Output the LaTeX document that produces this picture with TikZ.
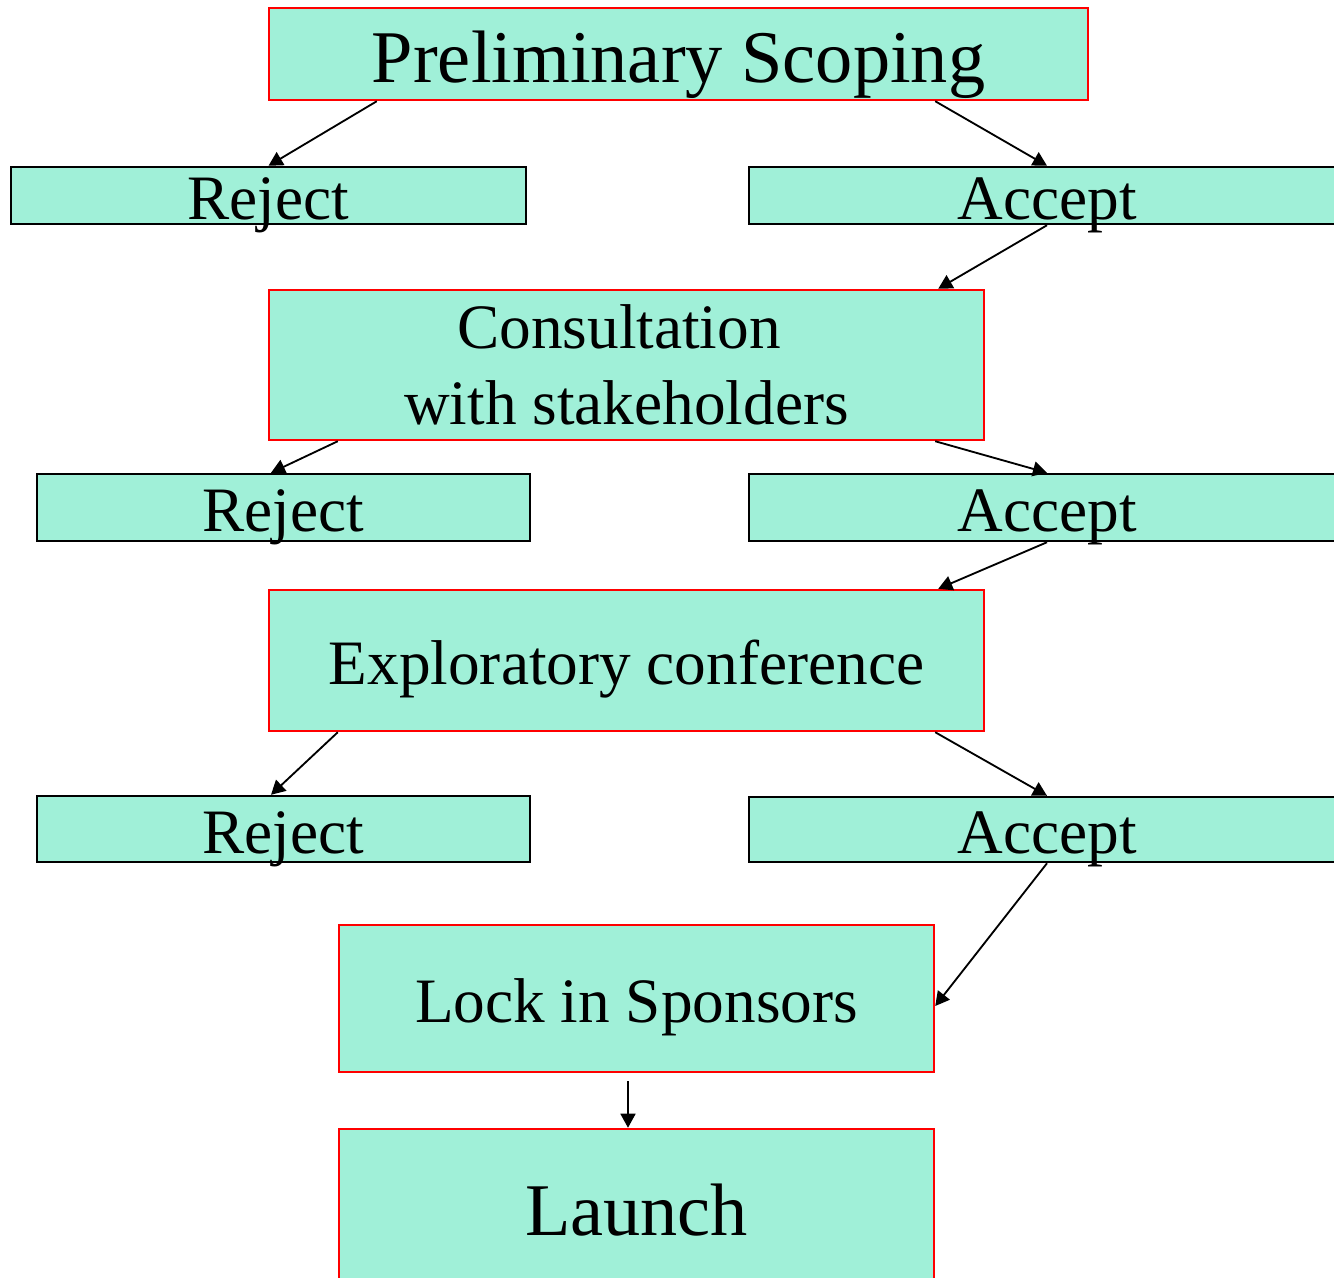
\documentclass[tikz,border=0pt]{standalone}
\usepackage{fontspec}
\setmainfont{Liberation Serif}
\usepackage{xcolor}
\usetikzlibrary{positioning, arrows.meta}
\definecolor{flow-mint}{HTML}{A0F0D8}
\definecolor{flow-red}{HTML}{FF0000}

\begin{document}
\begin{tikzpicture}[
    stage/.style={draw=flow-red, line width=1.4pt, fill=flow-mint, inner sep=0pt,
                  font=\fontsize{36}{43}\selectfont},
    outcome/.style={draw=black, line width=1.4pt, fill=flow-mint, inner sep=0pt,
                  font=\fontsize{36}{43}\selectfont, text height=27.5pt, text depth=0pt},
    bigtext/.style={font=\fontsize{42.3}{50}\selectfont, text height=32.5pt, text depth=0pt},
    midtext/.style={text height=27.5pt, text depth=0pt},
    arr/.style={-{Triangle[length=8pt, width=8.5pt]}, line width=1.05pt},
]
    \useasboundingbox (0, 0) rectangle (26.68, -25.54);

    \node[stage, bigtext, minimum width=16.38cm, minimum height=1.84cm] (scoping) at (13.57, -1.08) {Preliminary Scoping};
    \node[outcome, minimum width=10.3cm,  minimum height=1.14cm] (reject1) at (5.37, -3.91)  {Reject};
    \node[outcome, minimum width=11.92cm, minimum height=1.14cm] (accept1) at (20.94, -3.91) {Accept};

    \node[stage, align=center, minimum width=14.3cm, minimum height=3.0cm] (consult) at (12.53, -7.30) {Consultation\hspace*{0.3cm}\\with stakeholders};
    \node[outcome, minimum width=9.86cm,  minimum height=1.34cm] (reject2) at (5.67, -10.15)  {Reject};
    \node[outcome, minimum width=11.92cm, minimum height=1.34cm] (accept2) at (20.94, -10.15) {Accept};

    \node[stage, midtext, minimum width=14.3cm, minimum height=2.82cm] (explore) at (12.53, -13.21) {Exploratory conference};
    \node[outcome, minimum width=9.86cm,  minimum height=1.32cm] (reject3) at (5.67, -16.58)  {Reject};
    \node[outcome, minimum width=11.92cm, minimum height=1.30cm] (accept3) at (20.94, -16.59) {Accept};

    \node[stage, midtext, minimum width=11.9cm, minimum height=2.94cm] (sponsors) at (12.73, -19.97) {Lock in Sponsors};
    \node[stage, bigtext, minimum width=11.9cm, minimum height=3.12cm] (launch) at (12.73, -24.14) {Launch};

    \draw[arr] ([xshift=2.18cm]scoping.south west) -- (reject1.north);
    \draw[arr] ([xshift=-3.08cm]scoping.south east) -- (accept1.north);
    \draw[arr] (accept1.south) -- ([xshift=-0.94cm]consult.north east);

    \draw[arr] ([xshift=1.4cm]consult.south west) -- ([xshift=-0.25cm]reject2.north);
    \draw[arr] ([xshift=-1.0cm]consult.south east) -- (accept2.north);
    \draw[arr] (accept2.south) -- ([xshift=-0.94cm]explore.north east);

    \draw[arr] ([xshift=1.4cm]explore.south west) -- ([xshift=-0.25cm]reject3.north);
    \draw[arr] ([xshift=-1.0cm]explore.south east) -- (accept3.north);
    \draw[arr] (accept3.south) -- ([yshift=-0.15cm]sponsors.east);

    \draw[arr, shorten <=0.16cm] ([xshift=-0.17cm]sponsors.south) -- ([xshift=-0.17cm]launch.north);
\end{tikzpicture}
\end{document}
